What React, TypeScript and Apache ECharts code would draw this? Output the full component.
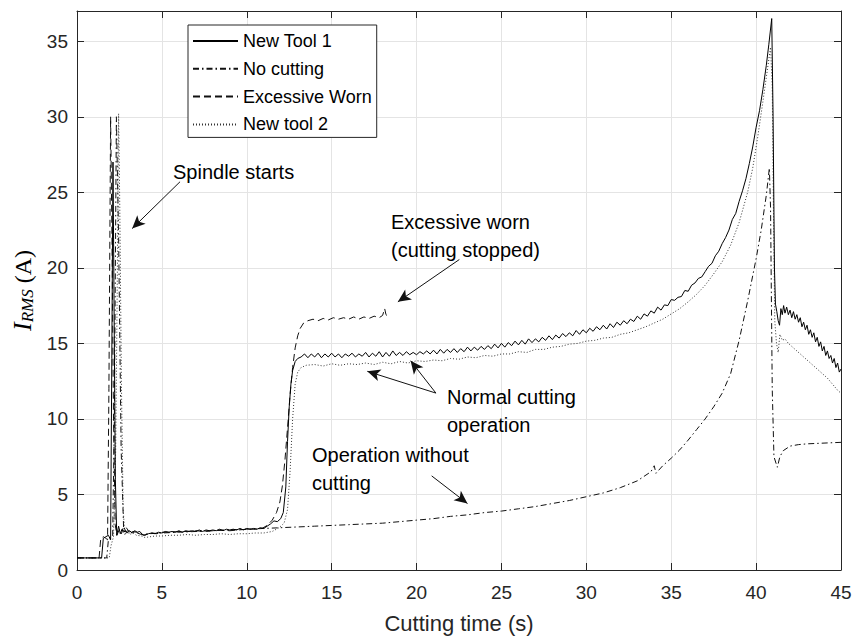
import React, { useEffect, useRef } from "react";
import * as echarts from "echarts";

// ---------- data ----------
const seriesNames = ["New Tool 1", "No cutting", "Excessive Worn", "New tool 2"];

const newTool1: number[][] = [
  [0, 0.8], [1.45, 0.8], [1.55, 2.1], [1.7, 2.2], [1.85, 2.3], [1.98, 2.0], [2.05, 14], [2.12, 27.0], [2.18, 18], [2.26, 6],
  [2.34, 2.3], [2.45, 2.9], [2.55, 2.4], [2.65, 2.7], [2.75, 2.5], [2.85, 2.6], [2.95, 2.45], [3.1, 2.6], [3.25, 2.45], [3.4, 2.6],
  [3.55, 2.5], [3.7, 2.55], [3.85, 2.35], [4.0, 2.3], [4.2, 2.4], [4.4, 2.45], [4.6, 2.4], [4.8, 2.5], [5.0, 2.45], [5.2, 2.55],
  [5.4, 2.5], [5.6, 2.55], [5.8, 2.5], [6.0, 2.6], [6.2, 2.5], [6.4, 2.6], [6.6, 2.55], [6.8, 2.6], [7.0, 2.55], [7.2, 2.65],
  [7.4, 2.55], [7.6, 2.65], [7.8, 2.6], [8.0, 2.65], [8.2, 2.6], [8.4, 2.7], [8.6, 2.6], [8.8, 2.7], [9.0, 2.65], [9.2, 2.7],
  [9.4, 2.65], [9.6, 2.75], [9.8, 2.65], [10.0, 2.75], [10.2, 2.7], [10.4, 2.75], [10.6, 2.7], [10.8, 2.8], [11.0, 2.75], [11.2, 2.9],
  [11.4, 3.05], [11.6, 3.25], [11.8, 3.2], [12.0, 3.4], [12.15, 3.8], [12.3, 5.5], [12.4, 8.5], [12.5, 10.8], [12.6, 12.3], [12.7, 13.2],
  [12.85, 13.8], [13.0, 14.0], [13.2, 14.1],
  [13.4, 14.3], [13.6, 14.05], [13.8, 14.3], [14.0, 14.1], [14.2, 14.35], [14.4, 14.05], [14.6, 14.3], [14.8, 14.1], [15.0, 14.35], [15.2, 14.1],
  [15.4, 14.3], [15.6, 14.05], [15.8, 14.3], [16.0, 14.15], [16.2, 14.35], [16.4, 14.1], [16.6, 14.3], [16.8, 14.15], [17.0, 14.4], [17.2, 14.1],
  [17.4, 14.35], [17.6, 14.15], [17.8, 14.45], [18.0, 14.1], [18.2, 14.4], [18.4, 14.15], [18.6, 14.5], [18.8, 14.2], [19.0, 14.4], [19.2, 14.2],
  [19.4, 14.45], [19.6, 14.25], [19.8, 14.4], [20.0, 14.25], [20.2, 14.45], [20.4, 14.3], [20.6, 14.5], [20.8, 14.3], [21.0, 14.55], [21.2, 14.3],
  [21.4, 14.6], [21.6, 14.35], [21.8, 14.6], [22.0, 14.4], [22.2, 14.65], [22.4, 14.4], [22.6, 14.65], [22.8, 14.45], [23.0, 14.75], [23.2, 14.5],
  [23.4, 14.75], [23.6, 14.55], [23.8, 14.8], [24.0, 14.6], [24.2, 14.85], [24.4, 14.65], [24.6, 14.95], [24.8, 14.7], [25.0, 15.0], [25.2, 14.75],
  [25.4, 15.05], [25.6, 14.85], [25.8, 15.15], [26.0, 14.9], [26.2, 15.2], [26.4, 14.95], [26.6, 15.3], [26.8, 15.05], [27.0, 15.3], [27.2, 15.1],
  [27.4, 15.4], [27.6, 15.2], [27.8, 15.5], [28.0, 15.25], [28.2, 15.55], [28.4, 15.35], [28.6, 15.65], [28.8, 15.45], [29.0, 15.7], [29.2, 15.5],
  [29.4, 15.85], [29.6, 15.6], [29.8, 15.9], [30.0, 15.7], [30.2, 16.0], [30.4, 15.8], [30.6, 16.1], [30.8, 15.9], [31.0, 16.2], [31.2, 15.95],
  [31.4, 16.3], [31.6, 16.05], [31.8, 16.4], [32.0, 16.2], [32.2, 16.5], [32.4, 16.3], [32.6, 16.6], [32.8, 16.45], [33.0, 16.8], [33.2, 16.6],
  [33.4, 16.95], [33.6, 16.8], [33.8, 17.15], [34.0, 17.0], [34.2, 17.4], [34.4, 17.2], [34.6, 17.55], [34.8, 17.5], [35.0, 17.9], [35.2, 17.85],
  [35.4, 18.05], [35.6, 18.1], [35.8, 18.5], [36.0, 18.45], [36.2, 18.85], [36.4, 19.0], [36.6, 19.3], [36.8, 19.4], [37.0, 19.75], [37.2, 20.1],
  [37.4, 20.3], [37.6, 20.8], [37.8, 21.1], [38.0, 21.6], [38.2, 22.0], [38.4, 22.5], [38.6, 23.2], [38.8, 23.6], [39.0, 24.4], [39.2, 25.1],
  [39.4, 25.9], [39.6, 26.9], [39.8, 28.0], [40.0, 29.3], [40.2, 30.4], [40.4, 31.8], [40.6, 33.4], [40.75, 34.8], [40.92, 36.5], [41.0, 30],
  [41.08, 20], [41.14, 17.6], [41.22, 17.1], [41.3, 16.5], [41.38, 16.2], [41.46, 17.3], [41.54, 16.9], [41.62, 17.5], [41.7, 17.0], [41.8, 17.4],
  [41.9, 16.9], [42.0, 17.2], [42.1, 16.7], [42.2, 17.1], [42.3, 16.6], [42.4, 16.9], [42.5, 16.4], [42.6, 16.7], [42.7, 16.1], [42.8, 16.4],
  [42.9, 15.9], [43.0, 16.2], [43.1, 15.6], [43.2, 15.9], [43.3, 15.4], [43.4, 15.7], [43.5, 15.1], [43.6, 15.4], [43.7, 14.8], [43.8, 15.1],
  [43.9, 14.5], [44.0, 14.8], [44.1, 14.2], [44.2, 14.5], [44.3, 14.0], [44.4, 14.2], [44.5, 13.7], [44.6, 14.0], [44.7, 13.4], [44.8, 13.7],
  [44.9, 13.1], [45.0, 13.3],
];

const noCutting: number[][] = [
  [0, 0.8], [1.75, 0.8], [1.85, 2.0], [2.1, 2.2], [2.2, 10], [2.32, 30.0], [2.45, 22], [2.6, 8], [2.75, 2.6], [2.9, 2.8],
  [3.1, 2.5], [3.4, 2.5], [3.8, 2.35], [4.2, 2.4], [5, 2.45], [6, 2.5], [7, 2.55], [8, 2.6], [9, 2.65], [10, 2.7],
  [11, 2.75], [12, 2.8], [13, 2.85], [14, 2.9], [15, 2.95], [16, 3.0], [17, 3.05], [18, 3.1], [19, 3.2], [20, 3.3],
  [21, 3.4], [22, 3.55], [23, 3.65], [24, 3.8], [25, 3.9], [26, 4.05], [27, 4.2], [28, 4.4], [29, 4.6], [30, 4.85],
  [31, 5.1], [32, 5.45], [33, 5.9], [33.8, 6.5], [34.0, 6.9], [34.1, 6.4], [34.5, 6.9], [35, 7.4], [35.5, 7.95], [36, 8.6],
  [36.5, 9.3], [37, 10.0], [37.5, 10.8], [38, 11.7], [38.5, 13.0], [39, 15.2], [39.5, 17.8], [40, 20.6], [40.3, 22.5], [40.6, 24.8],
  [40.78, 26.6], [40.85, 24], [40.95, 12], [41.05, 7.5], [41.25, 6.8], [41.4, 7.5], [41.6, 7.9], [42, 8.2], [42.5, 8.3], [43, 8.35],
  [44, 8.4], [45, 8.45],
];

const excessiveWorn: number[][] = [
  [0, 0.8], [1.3, 0.8], [1.4, 2.1], [1.55, 2.2], [1.7, 2.1], [1.8, 2.0], [1.88, 12], [1.98, 30.0], [2.06, 22], [2.15, 10],
  [2.25, 3], [2.35, 2.3], [2.5, 2.7], [2.62, 2.4], [2.75, 2.9], [2.88, 2.5], [3.0, 2.6], [3.15, 2.45], [3.3, 2.55], [3.5, 2.5],
  [3.7, 2.45], [3.9, 2.3], [4.1, 2.35], [4.4, 2.45], [4.7, 2.4], [5.0, 2.5], [5.5, 2.5], [6.0, 2.55], [6.5, 2.55], [7.0, 2.6],
  [7.5, 2.55], [8.0, 2.6], [8.5, 2.65], [9.0, 2.6], [9.5, 2.65], [10.0, 2.7], [10.5, 2.7], [10.9, 2.75], [11.2, 2.95], [11.5, 3.3],
  [11.75, 3.8], [11.95, 4.5], [12.1, 5.6], [12.25, 7.3], [12.4, 9.4], [12.55, 11.6], [12.7, 13.4], [12.85, 14.7], [13.0, 15.5], [13.15, 16.0],
  [13.35, 16.35], [13.6, 16.5], [13.9, 16.6], [14.2, 16.5], [14.5, 16.65], [14.8, 16.55], [15.1, 16.7], [15.4, 16.6], [15.7, 16.7], [16.0, 16.6],
  [16.3, 16.75], [16.6, 16.6], [16.9, 16.75], [17.2, 16.65], [17.5, 16.8], [17.8, 16.7], [18.0, 16.85], [18.12, 17.3], [18.2, 16.9], [18.3, 16.8],
];

const newTool2: number[][] = [
  [0, 0.8], [1.9, 0.8], [2.0, 1.6], [2.15, 2.2], [2.28, 8], [2.38, 20], [2.45, 30.2], [2.52, 24], [2.62, 12], [2.72, 4],
  [2.82, 2.3], [2.95, 2.6], [3.1, 2.35], [3.3, 2.45], [3.5, 2.3], [3.8, 2.25], [4.0, 2.15], [4.3, 2.2], [4.6, 2.25], [5.0, 2.25],
  [5.5, 2.3], [6.0, 2.3], [6.5, 2.35], [7.0, 2.3], [7.5, 2.35], [8.0, 2.35], [8.5, 2.4], [9.0, 2.35], [9.5, 2.4], [10.0, 2.4],
  [10.5, 2.45], [11.0, 2.45], [11.5, 2.55], [11.9, 2.8], [12.2, 3.1], [12.4, 4.0], [12.55, 6.5], [12.7, 10.0], [12.85, 12.3], [13.0, 13.1],
  [13.2, 13.4], [13.5, 13.55], [14.0, 13.6], [14.5, 13.5], [15.0, 13.65], [15.5, 13.55], [16.0, 13.65], [16.5, 13.6], [17.0, 13.7], [17.5, 13.6],
  [18.0, 13.75], [18.5, 13.65], [19.0, 13.8], [19.5, 13.7], [20.0, 13.85], [20.5, 13.8], [21.0, 13.9], [21.5, 13.85], [22.0, 14.0], [22.5, 13.95],
  [23.0, 14.1], [23.5, 14.05], [24.0, 14.2], [24.5, 14.15], [25.0, 14.3], [25.5, 14.3], [26.0, 14.45], [26.5, 14.4], [27.0, 14.6], [27.5, 14.6],
  [28.0, 14.75], [28.5, 14.8], [29.0, 14.95], [29.5, 15.0], [30.0, 15.15], [30.5, 15.2], [31.0, 15.35], [31.5, 15.4], [32.0, 15.6], [32.5, 15.7],
  [33.0, 15.9], [33.5, 16.1], [34.0, 16.35], [34.5, 16.6], [35.0, 16.95], [35.5, 17.3], [36.0, 17.75], [36.5, 18.25], [37.0, 18.85], [37.5, 19.6],
  [38.0, 20.4], [38.5, 21.5], [39.0, 23.0], [39.5, 25.0], [39.8, 26.6], [40.1, 28.7], [40.4, 31.0], [40.65, 33.0], [40.85, 34.6], [40.95, 32],
  [41.02, 24], [41.1, 16.5], [41.2, 15.0], [41.3, 14.4], [41.4, 15.6], [41.55, 15.2], [41.7, 15.3], [41.9, 15.0], [42.1, 14.8], [42.4, 14.5],
  [42.7, 14.2], [43.0, 13.9], [43.3, 13.6], [43.6, 13.3], [43.9, 13.0], [44.2, 12.7], [44.5, 12.3], [44.8, 11.9], [45.0, 11.7],
];

// annotation arrows in data coordinates: [from, to]
const arrowSpindle = [[6.07, 25.7], [3.25, 22.6]];
const arrowWorn = [[22.52, 20.55], [18.9, 17.75]];
const arrowNormalA = [[21.14, 11.71], [17.1, 13.15]];
const arrowNormalB = [[21.14, 11.71], [19.65, 13.85]];
const arrowNoCut = [[20.89, 6.23], [23.0, 4.4]];

const annotationTexts = ["Spindle starts", "Excessive worn\n(cutting stopped)", "Normal cutting\noperation", "Operation without\ncutting"];

const X_MIN = 0, X_MAX = 45, X_STEP = 5;
const Y_MIN = 0, Y_MAX = 37, Y_STEP = 5;

const FONT = "'Liberation Sans', Arial, Helvetica, sans-serif";
const AXIS_COLOR = "#262626";
const GRID_COLOR = "#e4e4e4";

export default function App() {
  const ref = useRef<HTMLDivElement>(null);

  useEffect(() => {
    if (!ref.current) return;
    const chart = echarts.init(ref.current, undefined, { renderer: "svg" });

    const axisCommon = {
      axisLine: { show: true, onZero: false, lineStyle: { color: AXIS_COLOR, width: 1 } },
      axisTick: { show: true, inside: true, length: 7, lineStyle: { color: AXIS_COLOR, width: 1 } },
    };

    const lineSeries = (name: string, data: number[][], type: any, color: string, z: number) => ({
      name,
      type: "line",
      data,
      symbol: "none",
      showSymbol: false,
      xAxisIndex: 0,
      yAxisIndex: 0,
      z,
      lineStyle: { color, width: 1, type },
      itemStyle: { color },
      emphasis: { disabled: true },
    });

    const arrows = [arrowSpindle, arrowWorn, arrowNormalA, arrowNormalB, arrowNoCut];

    const option: any = {
      animation: false,
      backgroundColor: "#ffffff",
      textStyle: { fontFamily: FONT },
      grid: { left: 77, right: 14, top: 11, bottom: 65, containLabel: false },
      legend: {
        data: seriesNames,
        orient: "vertical",
        left: 188,
        top: 25,
        itemWidth: 45,
        itemHeight: 18,
        itemGap: 9.8,
        padding: [7, 5, 4, 4],
        borderColor: AXIS_COLOR,
        borderWidth: 1,
        backgroundColor: "#ffffff",
        selectedMode: false,
        itemStyle: { opacity: 0 },
        textStyle: { fontSize: 18, color: "#000", fontFamily: FONT },
        z: 10,
      },
      xAxis: [
        {
          type: "value",
          min: X_MIN,
          max: X_MAX,
          interval: X_STEP,
          position: "bottom",
          name: "Cutting time (s)",
          nameLocation: "middle",
          nameGap: 42,
          nameTextStyle: { fontSize: 22, color: AXIS_COLOR, fontFamily: FONT },
          ...axisCommon,
          axisLabel: { fontSize: 19, color: AXIS_COLOR, margin: 13, fontFamily: FONT },
          splitLine: { show: true, lineStyle: { color: GRID_COLOR, width: 1 } },
        },
        {
          type: "value",
          min: X_MIN,
          max: X_MAX,
          interval: X_STEP,
          position: "top",
          ...axisCommon,
          axisLabel: { show: false },
          splitLine: { show: false },
        },
      ],
      yAxis: [
        {
          type: "value",
          min: Y_MIN,
          max: Y_MAX,
          interval: Y_STEP,
          position: "left",
          name: "{i|I}{s|RMS}{n| (A)}",
          nameLocation: "middle",
          nameGap: 38,
          nameTextStyle: {
            color: "#000",
            rich: {
              i: { fontFamily: "'Liberation Serif', 'Times New Roman', serif", fontStyle: "italic", fontSize: 26, lineHeight: 26, color: "#000" },
              s: { fontFamily: "'Liberation Serif', 'Times New Roman', serif", fontStyle: "italic", fontSize: 17, lineHeight: 13, verticalAlign: "bottom", color: "#000" },
              n: { fontFamily: "'Liberation Serif', 'Times New Roman', serif", fontSize: 24, lineHeight: 26, color: "#000" },
            },
          },
          ...axisCommon,
          axisLabel: {
            fontSize: 19,
            color: AXIS_COLOR,
            margin: 9,
            fontFamily: FONT,
            formatter: (v: number) => (v % Y_STEP === 0 ? String(v) : ""),
          },
          splitLine: { show: true, lineStyle: { color: GRID_COLOR, width: 1 } },
        },
        {
          type: "value",
          min: Y_MIN,
          max: Y_MAX,
          interval: Y_STEP,
          position: "right",
          ...axisCommon,
          axisLabel: { show: false },
          splitLine: { show: false },
        },
      ],
      series: [
        lineSeries(seriesNames[0], newTool1, "solid", "#000000", 5),
        lineSeries(seriesNames[1], noCutting, [6, 3, 1.5, 3], "#111111", 4),
        lineSeries(seriesNames[2], excessiveWorn, [7, 4], "#111111", 3),
        lineSeries(seriesNames[3], newTool2, [1, 2], "#333333", 2),
        {
          name: "arrows",
          type: "line",
          data: [],
          xAxisIndex: 0,
          yAxisIndex: 0,
          silent: true,
          markLine: {
            silent: true,
            animation: false,
            symbol: ["none", "arrow"],
            symbolSize: [9, 13],
            label: { show: false },
            lineStyle: { color: "#111", width: 1, type: "solid" },
            emphasis: { disabled: true },
            data: arrows.map((a) => [{ coord: a[0] }, { coord: a[1] }]),
          },
        },
      ],
      graphic: [
        {
          type: "text",
          x: 173,
          y: 158,
          z: 20,
          style: { text: annotationTexts[0], font: `20px ${FONT}`, fill: "#000", lineHeight: 28 },
        },
        {
          type: "text",
          x: 391,
          y: 208,
          z: 20,
          style: { text: annotationTexts[1], font: `20px ${FONT}`, fill: "#000", lineHeight: 28 },
        },
        {
          type: "text",
          x: 447,
          y: 383,
          z: 20,
          style: { text: annotationTexts[2], font: `20px ${FONT}`, fill: "#000", lineHeight: 28 },
        },
        {
          type: "text",
          x: 312,
          y: 441,
          z: 20,
          style: { text: annotationTexts[3], font: `20px ${FONT}`, fill: "#000", lineHeight: 28 },
        },
      ],
    };

    chart.setOption(option);
    return () => chart.dispose();
  }, []);

  return <div ref={ref} style={{ width: 855, height: 639, position: "absolute", left: 0, top: 0 }} />;
}
